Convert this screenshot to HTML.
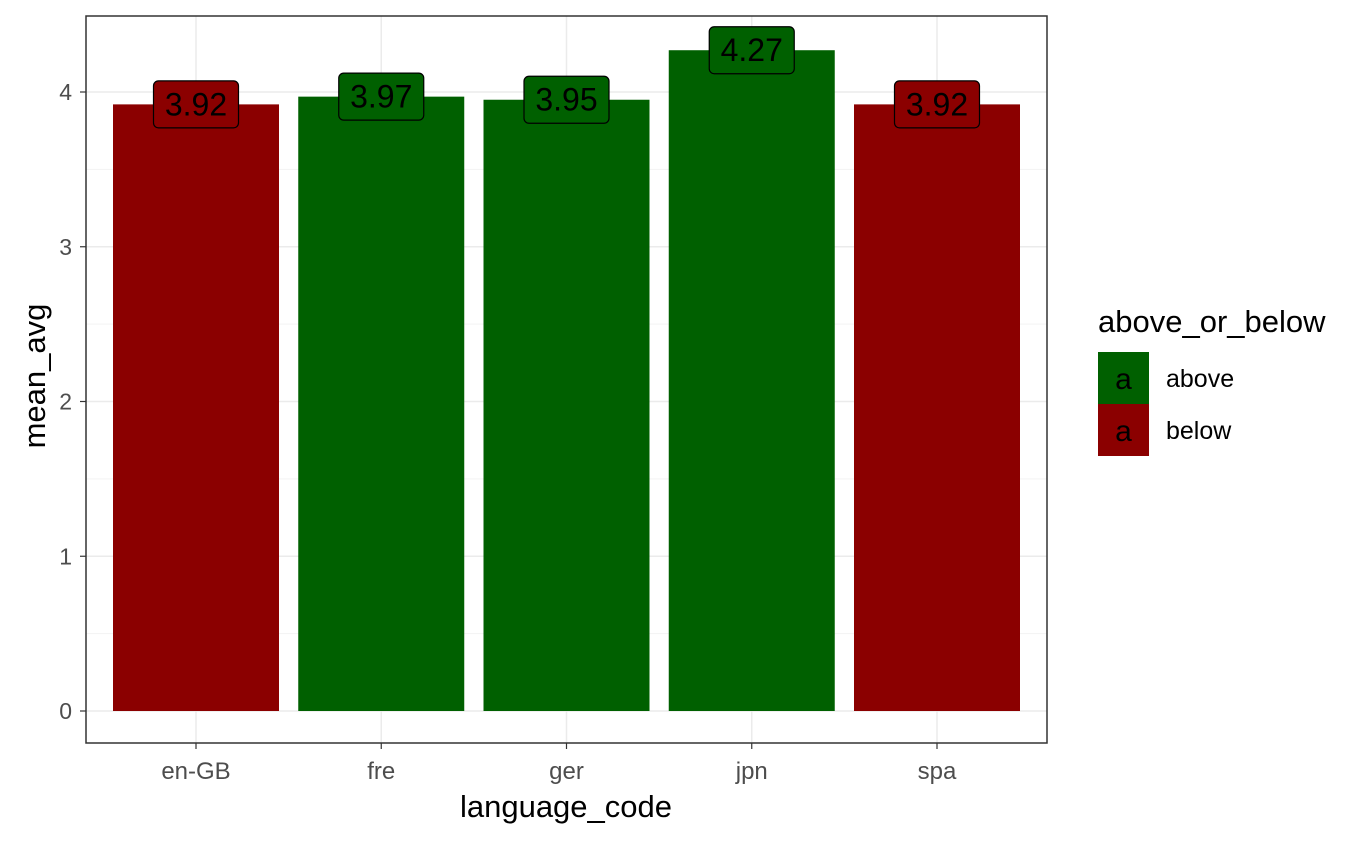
<!DOCTYPE html>
<html><head><meta charset="utf-8"><style>
body{margin:0;background:#fff;font-family:"Liberation Sans",sans-serif}
</style></head><body>
<svg id="c" width="1361" height="841" xmlns="http://www.w3.org/2000/svg" font-family="Liberation Sans, sans-serif"></svg>
<script>
const categories=["en-GB","fre","ger","jpn","spa"];
const values=[3.92,3.97,3.95,4.27,3.92];
const groups=["below","above","above","above","below"];
const yTicks=[0,1,2,3,4];
const legendLabels=["above","below"];
const colors={above:"#006000",below:"#8B0000"};
const NS="http://www.w3.org/2000/svg";
const svg=document.getElementById('c');
const L=86,R=1047,T=16,B=743;
const y=v=>711-v*154.75;
const step=185.25;
const x=i=>196+step*i;
const bw=166;
function mk(t,a,p){const e=document.createElementNS(NS,t);for(const k in a)e.setAttribute(k,a[k]);(p||svg).appendChild(e);return e;}
for(let k=0;k<yTicks.length;k++){const v=yTicks[k];
 const g=mk('line',{x1:L,x2:R,y1:y(v),y2:y(v),stroke:'#ebebeb','stroke-width':1.5});
 
 if(k<yTicks.length-1){const m=mk('line',{x1:L,x2:R,y1:y(v+0.5),y2:y(v+0.5),stroke:'#f3f3f3','stroke-width':1});
 }
 const tl=mk('text',{x:72,y:y(v)+8,'text-anchor':'end','font-size':23,fill:'#4d4d4d'});tl.textContent=v;
 
 const tk=mk('line',{x1:80,x2:L,y1:y(v),y2:y(v),stroke:'#333','stroke-width':1.2});
 
}
categories.forEach((c,i)=>{
 const g=mk('line',{x1:x(i),x2:x(i),y1:T,y2:B,stroke:'#ebebeb','stroke-width':1.5});
 
});
categories.forEach((c,i)=>{
 const v=values[i],col=colors[groups[i]];
 const r=mk('rect',{x:x(i)-bw/2,y:y(v),width:bw,height:y(0)-y(v),fill:col});
 
 const lb=mk('rect',{x:x(i)-42.5,y:y(v)-23.5,width:85,height:47,rx:5,fill:col,stroke:'#000','stroke-width':1.2});
 
 const t=mk('text',{x:x(i),y:y(v)+11,'text-anchor':'middle','font-size':32,fill:'#000'});t.textContent=v.toFixed(2);
 
 const tk=mk('line',{x1:x(i),x2:x(i),y1:B,y2:B+6,stroke:'#333','stroke-width':1.2});
 
 const xl=mk('text',{x:x(i),y:779,'text-anchor':'middle','font-size':24,fill:'#4d4d4d'});xl.textContent=c;
 
});
const fr=mk('rect',{x:L,y:T,width:R-L,height:B-T,fill:'none',stroke:'#333','stroke-width':1.5});

const xt=mk('text',{x:566,y:817,'text-anchor':'middle','font-size':31,fill:'#000'});xt.textContent='language_code';

const yt=mk('text',{x:0,y:0,'text-anchor':'middle','font-size':31,fill:'#000',transform:'translate(45,376) rotate(-90)'});yt.textContent='mean_avg';

const lt=mk('text',{x:1098,y:332,'font-size':31,fill:'#000'});lt.textContent='above_or_below';

legendLabels.forEach((l,k)=>{
 const ky=352+k*52;
 const r=mk('rect',{x:1098,y:ky,width:51,height:52,fill:colors[l]});
 
 const a=mk('text',{x:1123.5,y:ky+37,'text-anchor':'middle','font-size':30,fill:'#000'});a.textContent='a';
 
 const t=mk('text',{x:1166,y:ky+35,'font-size':25,fill:'#000'});t.textContent=l;
 
});
</script>
</body></html>
